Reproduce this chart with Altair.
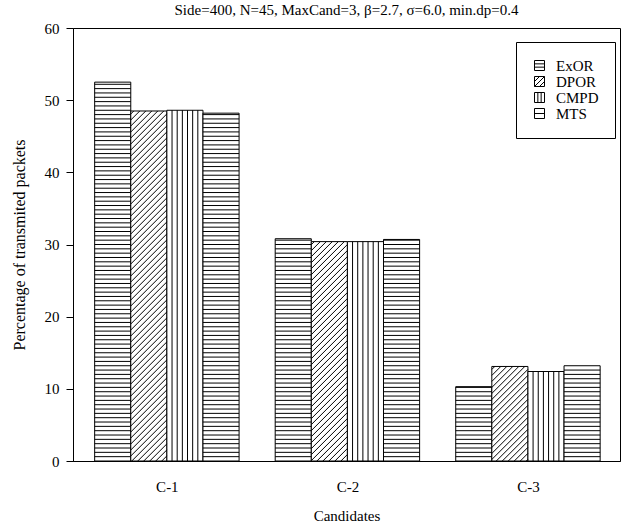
import altair as alt
import pandas as pd

# Values per candidate rank (percentage of transmitted packets)
candidates = ["C-1", "C-2", "C-3"]
methods = ["ExOR", "DPOR", "CMPD", "MTS"]
exor = [52.5, 30.8, 10.3]
dpor = [48.5, 30.4, 13.1]
cmpd = [48.6, 30.4, 12.4]
mts = [48.2, 30.7, 13.2]

series = {"ExOR": exor, "DPOR": dpor, "CMPD": cmpd, "MTS": mts}

# Plot geometry (plot area in pixels, x domain in group units)
W, H = 547, 433
X_DOM = [-0.02, 3.01]
Y_DOM = [0, 60]
BAR_W = 0.2
SX = W / (X_DOM[1] - X_DOM[0])      # px per x unit
SY = H / (Y_DOM[1] - Y_DOM[0])      # px per y unit

bars = []
for g, cand in enumerate(candidates):
    for i, m in enumerate(methods):
        left = g + 0.5 - 2 * BAR_W + i * BAR_W
        bars.append({"cand": cand, "method": m, "x": left, "x2": left + BAR_W,
                     "value": series[m][g]})
bars_df = pd.DataFrame(bars)

# Hatch lines drawn inside each bar
hatch = []
for b in bars:
    x0, x1, v = b["x"], b["x2"], b["value"]
    m = b["method"]
    if m in ("ExOR", "MTS"):
        step = 0.6
        k = 1
        while k * step < v - 0.05:
            hatch.append({"x": x0, "x2": x1, "y": k * step, "y2": k * step})
            k += 1
    elif m == "CMPD":
        n = 7
        for j in range(1, n):
            xx = x0 + j * BAR_W / n
            hatch.append({"x": xx, "x2": xx, "y": 0, "y2": v})
    elif m == "DPOR":
        w_px = BAR_W * SX
        h_px = v * SY
        gap = 6.0
        c = -h_px + gap / 2
        while c < w_px:
            u0 = max(0.0, c)
            u1 = min(w_px, h_px + c)
            if u1 - u0 > 0.3:
                hatch.append({"x": x0 + u0 / SX, "x2": x0 + u1 / SX,
                              "y": (u0 - c) / SY, "y2": (u1 - c) / SY})
            c += gap
hatch_df = pd.DataFrame(hatch)

# Legend symbols: framed squares with the matching hatch
shape_paths = [
    "M-1,-1H1V1H-1Z M-1,-0.33H1 M-1,0.33H1",
    "M-1,-1H1V1H-1Z M-1,0L0,-1 M-1,1L1,-1 M0,1L1,0",
    "M-1,-1H1V1H-1Z M-0.33,-1V1 M0.33,-1V1",
    "M-1,-1H1V1H-1Z M-1,0H1",
]

xscale = alt.Scale(domain=X_DOM, nice=False, zero=False)
yscale = alt.Scale(domain=Y_DOM, nice=False)

label_expr = "datum.value < 1 ? 'C-1' : datum.value < 2 ? 'C-2' : 'C-3'"

base_x = alt.X("x:Q", scale=xscale,
               axis=alt.Axis(title="Candidates", values=[0.5, 1.5, 2.5],
                             labelExpr=label_expr, ticks=False, grid=False,
                             labelPadding=18, titlePadding=14))
base_y = alt.Y("value:Q", scale=yscale,
               axis=alt.Axis(title="Percentage of transmited packets",
                             values=[0, 10, 20, 30, 40, 50, 60], grid=False,
                             tickSize=7, labelPadding=7,
                             titleX=-54, titleY=H / 2, titleBaseline="middle",
                             titleFontSize=16))

rects = alt.Chart(bars_df).mark_rect(fill="white", stroke="black", strokeWidth=1).encode(
    x=base_x,
    x2="x2:Q",
    y=base_y,
    y2=alt.datum(0),
)

lines = alt.Chart(hatch_df).mark_rule(color="black", strokeWidth=1).encode(
    x=alt.X("x:Q", scale=xscale),
    x2="x2:Q",
    y=alt.Y("y:Q", scale=yscale),
    y2="y2:Q",
)

legend_pts = alt.Chart(bars_df).mark_point(opacity=0).encode(
    x=alt.X("x:Q", scale=xscale),
    y=alt.Y("value:Q", scale=yscale),
    shape=alt.Shape("method:N",
                    scale=alt.Scale(domain=methods, range=shape_paths),
                    legend=alt.Legend(title=None, orient="none", legendX=443, legendY=14,
                                      symbolOpacity=1, symbolSize=100,
                                      symbolStrokeColor="black", symbolFillColor="white",
                                      symbolStrokeWidth=1, labelFontSize=15,
                                      labelFont="Liberation Serif", labelColor="black",
                                      strokeColor="black", fillColor="white",
                                      padding=16, rowPadding=0, labelOffset=9)),
)

chart = alt.layer(rects, lines, legend_pts).properties(
    width=W, height=H,
    title=alt.Title("Side=400, N=45, MaxCand=3, β=2.7, σ=6.0, min.dp=0.4",
                    font="Liberation Serif", fontSize=15, fontWeight="normal",
                    color="black", offset=3),
    autosize=alt.AutoSizeParams(type="none"),
    padding={"left": 73, "top": 28, "right": 8, "bottom": 66},
    background="white",
).configure_view(stroke="black", strokeWidth=1).configure_axis(
    labelFont="Liberation Serif", titleFont="Liberation Serif",
    labelFontSize=15, titleFontSize=15, titleFontWeight="normal",
    labelColor="black", titleColor="black", domainColor="black", tickColor="black",
)

chart.save("out.html", embed_options={"renderer": "svg", "actions": False})
